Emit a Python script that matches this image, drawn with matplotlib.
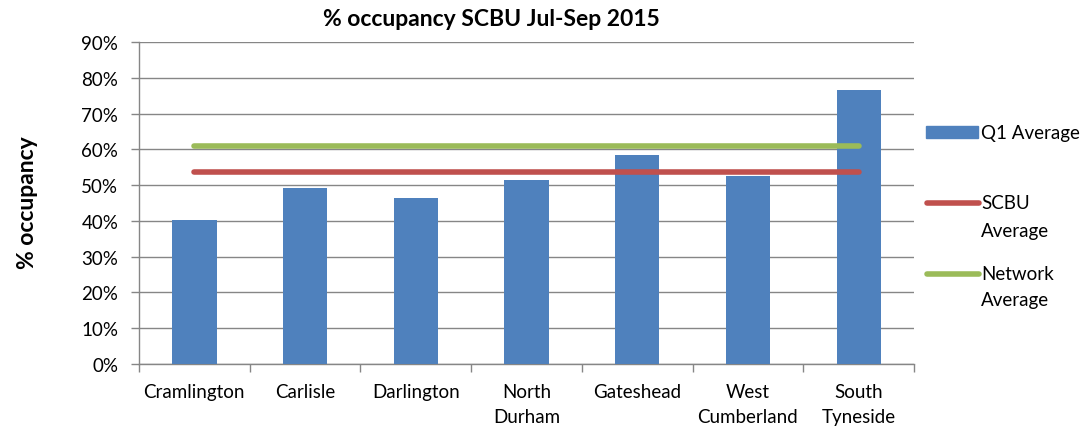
import matplotlib
matplotlib.use("Agg")
import matplotlib.pyplot as plt
from matplotlib.lines import Line2D
from matplotlib.patches import Rectangle
import numpy as np

categories = ["Cramlington", "Carlisle", "Darlington", "North\nDurham", "Gateshead",
              "West\nCumberland", "South\nTyneside"]
q1_average = [40.3, 49.3, 46.4, 51.3, 58.5, 52.5, 76.7]
scbu_average = [53.6] * 7
network_average = [61.0] * 7
yticks = [0, 10, 20, 30, 40, 50, 60, 70, 80, 90]

BLUE = "#4F81BD"
RED = "#C0504D"
GREEN = "#9BBB59"
GRID = "#868686"

plt.rcParams['font.family'] = ['Lato', 'DejaVu Sans']

W, H = 1090, 427
fig = plt.figure(figsize=(W / 100, H / 100), dpi=100)
left, right, bottom, top = 139, 914, 365, 43
ax = fig.add_axes([left / W, 1 - bottom / H, (right - left) / W, (bottom - top) / H])

x = np.arange(len(categories))
ax.bar(x, q1_average, width=0.4, color=BLUE, zorder=3)
ax.plot(x, scbu_average, color=RED, lw=4, solid_capstyle='round', zorder=4)
ax.plot(x, network_average, color=GREEN, lw=4, solid_capstyle='round', zorder=4)

ax.set_xlim(-0.5, len(categories) - 0.5)
ax.set_ylim(0, 90)
ax.set_yticks(yticks)
ax.set_yticklabels([f"{v}%" for v in yticks], fontsize=13.5)
ax.yaxis.grid(True, color=GRID, lw=1, zorder=0)
ax.set_axisbelow(True)

ax.set_xticks(x)
ax.set_xticklabels(categories, fontsize=13.5, linespacing=1.55, va='top')
ax.set_xticks(np.arange(-0.5, len(categories)), minor=True)
ax.tick_params(axis='x', which='major', length=0, pad=14)
ax.tick_params(axis='x', which='minor', length=6, color=GRID, width=1)
ax.tick_params(axis='y', length=6, color=GRID, width=1, pad=9)

for s in ['top', 'right']:
    ax.spines[s].set_visible(False)
for s in ['left', 'bottom']:
    ax.spines[s].set_color(GRID)
    ax.spines[s].set_linewidth(1)

fig.text(491 / W, 1 - 20 / H, "% occupancy SCBU Jul-Sep 2015", ha='center', va='center',
         fontsize=16.5, fontweight='bold')
fig.text(28 / W, 1 - 203 / H, "% occupancy", rotation=90, ha='center', va='center',
         fontsize=16.5, fontweight='bold')

# Legend drawn manually in figure pixel coordinates
def fx(px):
    return px / W

def fy(py):
    return 1 - py / H

fig.add_artist(Rectangle((fx(926), fy(139)), fx(978) - fx(926), fy(127) - fy(139),
                         transform=fig.transFigure, color=BLUE))
fig.add_artist(Line2D([fx(927), fx(979)], [fy(204), fy(204)], transform=fig.transFigure,
                      color=RED, lw=4, solid_capstyle='round'))
fig.add_artist(Line2D([fx(927), fx(979)], [fy(275), fy(275)], transform=fig.transFigure,
                      color=GREEN, lw=4, solid_capstyle='round'))
legend_labels = [("Q1 Average", 133), ("SCBU", 204), ("Average", 231),
                 ("Network", 275), ("Average", 301)]
for txt, py in legend_labels:
    fig.text(fx(981), fy(py), txt, ha='left', va='center', fontsize=13.5)

fig.savefig("out.png", dpi=100)
